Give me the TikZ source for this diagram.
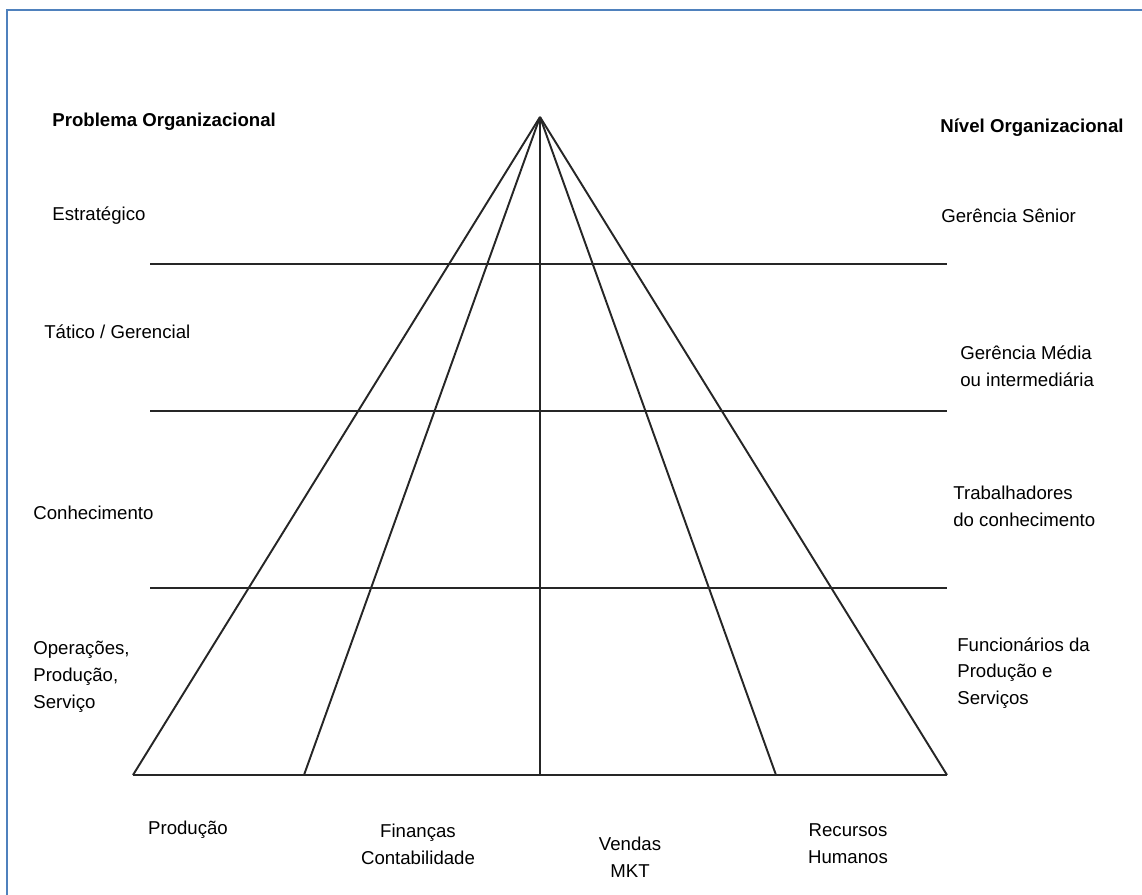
\documentclass[tikz,border=0pt]{standalone}
\usepackage{fontspec}
\setmainfont{Liberation Sans}
\usepackage{xcolor}
\definecolor{framecol}{HTML}{4F81BD}

\tikzset{
  lbl/.style={anchor=west, align=left, inner sep=0pt, font=\fontsize{10.6}{15.3}\selectfont},
  ttl/.style={lbl, font=\fontsize{10.6}{15.3}\selectfont\bfseries},
  dept/.style={lbl, anchor=center, align=center},
  edge/.style={line width=1.1pt, black!85},
}

\begin{document}
\begin{tikzpicture}[x=0.02cm, y=-0.02cm]
  \useasboundingbox (0,0) rectangle (1142,895);
  \draw[framecol, line width=1.2pt] (7,895) -- (7,10) -- (1142,10);

  % apex and base of the pyramid
  \coordinate (top) at (540,117);
  \coordinate (b1) at (133,775);
  \coordinate (b2) at (304,775);
  \coordinate (b3) at (540,775);
  \coordinate (b4) at (776,775);
  \coordinate (b5) at (947,775);

  \draw[edge] (b1) -- (b5);
  \foreach \b in {b1,b2,b3,b4,b5}
    \draw[edge] (top) -- (\b);

  % levels
  \foreach \y [count=\i] in {264,411,588} {
    \coordinate (l\i) at (150,\y);
    \coordinate (r\i) at (947,\y);
    \draw[edge] (l\i) -- (r\i);
  }

  \node[ttl] (prob) at (52,122) {Problema Organizacional};
  \node[ttl] (nivel) at (940,128) {Nível Organizacional};

  \node[lbl] (estr) at (52,216) {Estratégico};
  \node[lbl] (tat) at (44,332) {Tático / Gerencial};
  \node[lbl] (conh) at (33,513) {Conhecimento};
  \node[lbl] (oper) at (33,677) {Operações,\\Produção,\\Serviço};

  \node[lbl] (sen) at (941,216) {Gerência Sênior};
  \node[lbl] (med) at (960,366) {Gerência Média\\ou intermediária};
  \node[lbl] (trab) at (953,506) {Trabalhadores\\do conhecimento};
  \node[lbl] (func) at (957,673) {Funcionários da\\Produção e\\Serviços};

  \node[dept] (prod) at (188,830) {Produção};
  \node[dept] (fin) at (418,844) {Finanças\\Contabilidade};
  \node[dept] (vend) at (630,857) {Vendas\\MKT};
  \node[dept] (rh) at (848,844) {Recursos\\Humanos};
\end{tikzpicture}
\end{document}
